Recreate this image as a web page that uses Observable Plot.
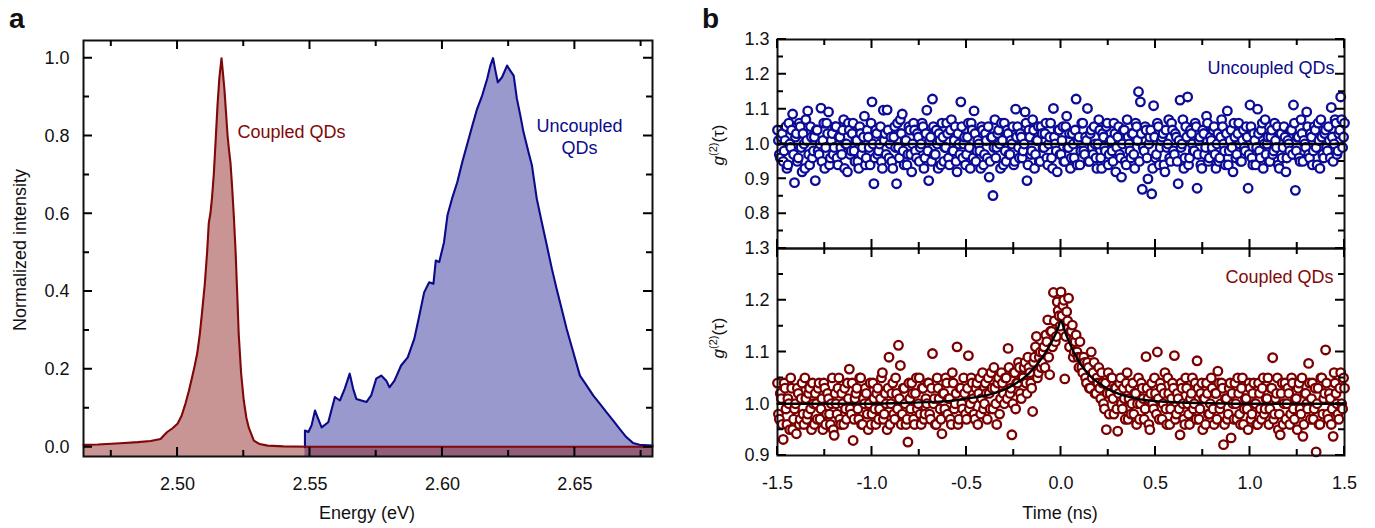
<!DOCTYPE html>
<html><head><meta charset="utf-8">
<script src="https://cdn.jsdelivr.net/npm/d3@7"></script>
<script src="https://cdn.jsdelivr.net/npm/@observablehq/plot@0.6"></script>
<style>
body{margin:0;background:#fff;}
#root{position:relative;width:1375px;height:528px;overflow:hidden;font-family:"Liberation Sans",Arial,sans-serif;color:#111;}
#root > svg{position:absolute;overflow:visible;}
</style></head><body><div id="root"></div>
<script>
// ---------- Panel a: PL spectra ----------
const coupledE = [2.4645,2.4700,2.4785,2.4850,2.4898,2.4936,2.4948,2.4961,2.4980,2.5000,2.5015,2.5030,2.5043,2.5055,2.5065,2.5074,2.5084,2.5093,2.5103,2.5112,2.5118,2.5124,2.5130,2.5137,2.5144,2.5151,2.5158,2.5166,2.5171,2.5177,2.5183,2.5189,2.5195,2.5200,2.5206,2.5212,2.5219,2.5225,2.5231,2.5240,2.5250,2.5260,2.5269,2.5288,2.5310,2.5340,2.5400,2.5500,2.6000,2.6500,2.6793];
const coupledI = [0.006,0.007,0.010,0.013,0.016,0.021,0.030,0.039,0.048,0.060,0.080,0.112,0.145,0.180,0.210,0.240,0.290,0.350,0.420,0.505,0.577,0.600,0.640,0.703,0.790,0.880,0.950,1.000,0.965,0.920,0.860,0.800,0.760,0.730,0.670,0.600,0.505,0.400,0.290,0.190,0.120,0.075,0.050,0.017,0.008,0.004,0.002,0.001,0.001,0.001,0.001];
const uncoupledE = [2.5481,2.5481,2.5494,2.5506,2.5519,2.5531,2.5544,2.5569,2.5594,2.5613,2.5631,2.5650,2.5663,2.5675,2.5694,2.5713,2.5731,2.5750,2.5769,2.5788,2.5800,2.5819,2.5844,2.5869,2.5894,2.5913,2.5931,2.5950,2.5966,2.5975,2.5988,2.6006,2.6019,2.6038,2.6056,2.6075,2.6094,2.6113,2.6131,2.6150,2.6169,2.6181,2.6191,2.6200,2.6209,2.6225,2.6244,2.6256,2.6269,2.6281,2.6294,2.6306,2.6325,2.6338,2.6356,2.6375,2.6394,2.6413,2.6431,2.6450,2.6469,2.6494,2.6519,2.6544,2.6569,2.6594,2.6619,2.6644,2.6669,2.6694,2.6719,2.6744,2.6775,2.6793];
const uncoupledI = [0.000,0.043,0.039,0.056,0.094,0.073,0.051,0.064,0.129,0.120,0.150,0.189,0.150,0.124,0.120,0.116,0.133,0.176,0.184,0.171,0.154,0.171,0.210,0.231,0.279,0.339,0.398,0.424,0.420,0.480,0.476,0.527,0.596,0.643,0.681,0.733,0.780,0.827,0.870,0.904,0.947,0.981,1.000,0.968,0.938,0.951,0.981,0.968,0.955,0.896,0.853,0.810,0.758,0.724,0.639,0.578,0.519,0.459,0.407,0.356,0.304,0.244,0.184,0.159,0.133,0.112,0.090,0.069,0.047,0.026,0.011,0.006,0.005,0.004];
const energyLabels = [2.50,2.55,2.60,2.65];
const energyMinor = [2.475,2.525,2.575,2.625,2.675];
const intensityLabels = [0.0,0.2,0.4,0.6,0.8,1.0];
const intensityMinor = [0.1,0.3,0.5,0.7,0.9];

// ---------- Panel b: g2(tau), two interleaved bin sets ----------
const tStartA = -1.5, tStartB = -1.495, tStep = 0.01;
const g2Uncoupled = [
1.04,0.97,1.02,0.95,1.01,0.93,1.06,0.99,1.086,0.889,
1.03,0.96,1.05,0.92,1.00,1.07,1.095,0.94,1.02,0.98,
0.895,1.04,0.97,1.103,1.01,0.93,1.06,1.092,0.96,1.03,
0.99,1.05,0.94,1.02,0.97,1.07,1.00,0.92,1.04,0.98,
1.06,0.95,1.01,0.93,1.03,0.99,1.08,0.96,1.02,0.94,
1.121,0.886,1.04,0.97,1.00,0.95,1.097,1.03,1.098,0.96,
1.02,0.93,1.05,0.886,0.99,1.07,1.086,0.94,1.01,0.97,
1.04,0.92,1.06,0.98,1.03,0.95,1.00,1.05,0.96,1.097,
0.895,1.02,1.129,0.97,1.04,0.93,1.01,1.06,0.95,0.99,
1.03,0.94,1.07,0.98,1.05,0.92,1.00,1.121,0.96,1.02,
0.97,1.06,0.93,1.04,1.095,0.95,1.01,0.98,1.05,0.94,
1.03,0.96,0.905,1.02,0.852,1.07,0.99,1.04,0.93,1.01,
1.06,0.95,1.03,0.97,1.00,0.94,1.10,1.05,0.96,1.02,
0.98,1.092,0.895,1.04,0.97,1.07,0.93,1.01,1.05,0.95,
1.03,0.99,1.06,0.94,1.02,0.96,1.102,1.00,0.92,1.04,
0.97,1.05,0.95,1.08,0.99,0.93,1.03,0.96,1.129,1.01,
0.94,1.06,0.98,1.02,1.102,0.95,1.04,0.97,1.00,0.93,
1.07,0.96,1.03,0.99,1.05,0.94,1.01,0.98,1.06,0.92,
1.02,0.97,0.905,1.04,0.95,1.07,1.00,0.96,1.03,0.93,
1.05,1.15,1.121,0.870,0.98,1.04,0.90,1.02,0.857,1.11,
0.96,1.06,0.94,1.01,1.03,0.92,0.99,1.07,0.95,1.04,
0.97,1.02,0.886,1.126,1.00,0.93,1.05,1.135,0.96,1.03,
0.98,1.06,0.873,1.01,0.94,1.04,0.97,1.08,0.95,1.02,
0.99,1.05,0.93,1.03,0.96,1.07,1.00,0.94,1.095,0.98,
1.04,0.92,1.02,0.97,1.06,0.95,1.01,0.99,1.05,0.873,
1.112,0.96,1.03,0.94,1.10,0.98,1.04,0.93,1.07,1.00,
0.95,1.02,0.97,1.06,0.99,0.94,1.03,0.96,1.05,0.92,
1.01,0.98,1.04,1.112,0.867,1.02,0.96,1.07,0.95,1.00,
1.092,0.97,1.03,0.94,1.05,0.99,1.06,0.93,1.02,0.96,
1.04,0.98,1.01,1.105,0.95,1.07,0.97,1.03,1.135,0.99,
1.06];
const g2UncoupledB = [
1.01,0.96,1.03,0.98,1.05,0.94,1.00,1.04,0.97,1.02,
0.95,1.06,0.99,1.03,0.93,1.01,0.97,1.05,0.96,1.02,
1.04,0.98,1.00,0.95,1.06,0.99,1.03,0.94,1.01,0.97,
1.05,0.96,1.02,0.99,1.04,0.93,1.00,1.06,0.97,1.03,
0.98,1.01,0.95,1.05,0.97,1.02,0.94,1.04,0.99,1.06,
1.00,0.96,1.03,0.98,1.05,0.93,1.01,0.97,1.04,1.00,
0.95,1.02,0.99,1.06,0.96,1.03,0.98,1.01,0.94,1.05,
0.97,1.00,1.04,0.96,1.02,0.99,1.06,0.93,1.03,0.98,
1.01,0.95,1.05,0.97,1.00,1.03,0.94,1.02,0.99,1.06,
0.96,1.04,0.98,1.01,0.95,1.03,0.97,1.05,1.00,0.94,
1.02,0.99,1.06,0.96,1.03,0.98,1.00,0.93,1.04,0.97,
1.01,1.05,0.95,1.02,0.99,0.96,1.03,1.00,1.06,0.94,
0.98,1.04,0.97,1.01,1.05,0.95,1.02,0.99,1.03,0.96,
1.00,1.06,0.94,1.02,0.98,1.04,0.97,1.01,0.95,1.05,
0.99,1.03,0.96,1.00,1.06,0.93,1.02,0.98,1.04,0.97,
1.01,0.95,1.05,0.99,1.03,0.96,1.00,1.04,0.94,1.02,
0.98,1.06,0.97,1.01,0.95,1.03,0.99,1.05,0.96,1.00,
1.04,0.93,1.02,0.98,1.06,0.97,1.01,0.95,1.03,0.99,
1.05,0.96,1.00,1.04,0.94,1.02,0.98,1.03,0.97,1.06,
1.01,0.95,1.03,0.99,1.05,0.96,1.00,1.04,0.93,1.02,
0.97,1.05,0.99,1.02,0.94,1.04,1.00,0.96,1.06,0.98,
1.03,0.95,1.01,0.99,1.07,0.96,1.02,0.94,1.04,1.00,
0.98,1.05,0.97,1.02,0.93,1.03,0.99,1.06,0.96,1.01,
1.04,0.97,1.00,0.95,1.02,1.05,0.98,1.03,0.94,1.01,
0.99,1.06,0.96,1.03,1.00,0.95,1.04,0.98,1.02,0.97,
1.05,0.94,1.01,0.99,1.03,0.96,1.06,1.00,0.97,1.02,
0.95,1.04,0.98,1.01,1.05,0.93,1.03,0.99,1.02,0.96,
1.00,1.04,0.97,1.06,0.98,1.02,0.95,1.03,1.01,0.99,
1.05,0.96,1.02,0.98,1.04,0.94,1.01,1.07,0.97,1.03,
0.99,1.05,0.96,1.02,1.00,1.06,0.98,1.04,1.07,1.02];
const g2Coupled = [
1.04,0.97,1.01,0.931,1.03,0.96,1.00,1.05,0.95,0.99,
0.942,1.02,0.97,1.04,0.96,1.01,0.98,1.03,0.95,1.00,
1.02,0.97,1.04,0.99,0.95,1.03,0.98,1.01,0.96,1.05,
0.939,1.00,1.03,0.97,1.02,0.96,0.99,1.04,1.067,0.98,
0.929,1.01,1.03,0.97,1.05,0.96,1.00,1.02,0.95,1.04,
0.98,1.01,0.96,1.03,0.99,1.05,0.97,1.02,0.95,1.09,
1.00,1.04,0.97,1.02,1.113,1.074,0.98,1.03,0.96,0.926,
1.01,1.04,0.97,1.02,0.99,1.05,0.96,1.03,0.98,1.00,
1.04,0.97,1.097,1.01,0.96,1.03,0.99,0.942,1.02,1.05,
0.98,1.01,0.96,1.04,1.00,1.11,0.97,1.03,0.99,1.02,
0.97,1.093,1.00,1.04,0.98,1.03,0.96,1.05,1.01,0.99,
1.04,0.97,1.02,1.06,0.99,1.03,0.96,1.05,1.01,1.04,
1.00,1.05,1.107,1.02,0.94,1.06,0.99,1.04,1.07,1.01,
1.05,1.08,1.02,1.07,1.04,0.985,1.09,1.13,1.06,1.10,
1.08,1.11,1.133,1.162,1.056,1.14,1.215,1.12,1.197,1.17,
1.216,1.19,1.048,1.178,1.204,1.14,1.152,1.10,1.133,1.09,
1.12,1.07,1.09,1.05,1.08,1.03,1.10,1.06,1.02,1.05,
1.07,1.01,1.04,0.99,0.95,1.06,1.02,1.05,0.98,1.03,
0.947,1.04,1.00,1.03,0.97,1.06,1.01,0.98,1.04,1.02,
0.96,1.05,1.00,1.03,0.97,1.091,1.01,0.95,1.04,0.99,
1.02,1.10,0.97,1.03,1.00,1.06,0.96,1.02,0.99,1.04,
1.093,0.98,1.01,0.94,1.03,0.97,1.05,1.00,0.96,1.02,
0.99,1.04,1.083,0.97,1.02,0.95,1.01,1.04,0.98,1.00,
1.03,0.96,1.02,1.063,0.99,1.04,0.921,1.01,0.97,1.03,
0.934,1.00,1.04,0.97,1.02,0.96,1.05,0.99,1.01,0.95,
1.03,0.98,1.04,1.00,0.96,1.02,0.97,1.05,0.99,1.01,
0.96,1.03,1.089,0.98,1.02,0.95,0.94,1.04,1.00,0.97,
1.03,0.96,1.05,0.99,1.01,0.95,1.04,0.98,0.937,1.02,
1.00,1.078,0.97,1.04,0.99,0.907,1.03,0.96,1.05,1.01,
1.104,0.98,1.02,0.96,0.937,1.04,1.00,0.97,1.06,0.99,
1.03];
const g2CoupledB = [
0.98,1.02,0.96,1.04,0.99,1.01,0.95,1.03,0.97,1.00,
1.03,0.96,1.01,0.98,1.05,0.97,1.02,0.99,1.04,0.96,
1.00,1.03,0.97,1.01,1.04,0.96,1.02,0.98,1.00,0.95,
1.02,0.98,1.05,0.96,1.00,1.03,0.97,1.01,0.99,1.04,
0.97,1.02,0.99,1.05,0.96,1.01,1.03,0.98,1.00,0.96,
1.04,0.99,1.02,0.97,1.01,1.06,0.98,1.00,1.03,0.96,
1.02,0.98,1.05,0.99,1.01,0.96,1.03,1.00,0.97,1.04,
0.99,1.02,0.96,1.05,1.00,0.98,1.03,0.97,1.01,1.04,
0.98,1.03,1.00,0.96,1.05,1.01,0.97,1.02,0.99,1.04,
1.01,0.97,1.06,0.99,1.02,0.96,1.03,1.00,1.05,0.98,
1.03,0.99,1.05,1.01,0.97,1.04,1.02,0.98,1.06,1.00,
1.02,1.05,0.99,1.03,1.07,1.00,1.04,0.98,1.06,1.02,
1.05,1.01,1.07,1.03,1.00,1.06,1.04,1.08,1.02,1.05,
1.07,1.04,1.09,1.06,1.03,1.08,1.11,1.05,1.09,1.07,
1.10,1.07,1.12,1.09,1.14,1.11,1.16,1.13,1.18,1.15,
1.17,1.20,1.13,1.16,1.11,1.14,1.09,1.12,1.10,1.07,
1.09,1.06,1.08,1.04,1.07,1.03,1.05,1.08,1.02,1.04,
1.03,1.06,1.00,1.04,1.02,0.98,1.05,1.01,1.03,0.99,
1.02,1.05,0.99,1.01,1.04,0.97,1.03,1.00,0.98,1.02,
1.00,0.97,1.04,1.01,0.99,1.03,0.96,1.02,1.00,1.05,
0.98,1.01,1.04,0.97,1.02,0.99,1.05,0.96,1.01,1.03,
0.97,1.02,0.99,1.04,1.00,0.96,1.03,0.98,1.01,1.05,
1.00,0.97,1.03,0.99,1.04,1.01,0.96,1.02,0.98,1.05,
0.99,1.02,0.97,1.04,1.00,1.03,0.96,1.01,0.98,1.04,
1.02,0.97,1.00,1.05,0.98,1.03,0.96,1.01,0.99,1.04,
0.97,1.02,1.00,0.96,1.04,0.99,1.03,0.98,1.01,1.05,
0.99,1.03,0.97,1.01,1.05,0.98,1.02,0.96,1.04,1.00,
1.02,0.98,1.04,0.97,1.01,1.03,0.99,1.05,0.96,1.02,
0.99,1.04,1.01,0.97,1.03,1.00,0.96,1.05,0.98,1.02,
1.04,0.97,1.01,0.99,1.06,1.02,0.98,1.03,1.00,1.05];
const fitT = [-1.5,-1.0,-0.8,-0.6,-0.5,-0.4,-0.3,-0.25,-0.2,-0.15,-0.1,-0.07,-0.04,-0.02,0,0.02,0.04,0.07,0.1,0.15,0.2,0.25,0.3,0.4,0.5,0.6,0.8,1.0,1.5];
const fitG = [1.000,1.000,1.002,1.005,1.010,1.016,1.027,1.037,1.049,1.066,1.089,1.106,1.126,1.142,1.160,1.140,1.122,1.098,1.079,1.055,1.040,1.028,1.020,1.010,1.005,1.003,1.001,1.000,1.000];
const uncoupledBaseline = [1.0];
const timeLabels = [-1.5,-1.0,-0.5,0.0,0.5,1.0,1.5];
const timeMinor = [-1.25,-0.75,-0.25,0.25,0.75,1.25];
const g2TopLabels = [0.8,0.9,1.0,1.1,1.2,1.3];
const g2TopMinor = [0.75,0.85,0.95,1.05,1.15,1.25];
const g2BotLabels = [0.9,1.0,1.1,1.2,1.3];
const g2BotMinor = [0.95,1.05,1.15,1.25];

// ---------- colours ----------
const RED = "#800808", RED_FILL = "#8c1c1c", BLUE = "#0b0b8a", BLUE_DOT = "#0c0c96", DOT_RED = "#7a0000";
const FONT = '"Liberation Sans", Arial, sans-serif';

const baseStyle = {fontFamily: FONT, fontSize: "18px", color: "#111", background: "transparent", overflow: "visible"};
const root = document.getElementById("root");
function place(svg, left, top) {
  svg.style.position = "absolute";
  svg.style.left = left + "px";
  svg.style.top = top + "px";
  root.appendChild(svg);
}

// ---------- panel a ----------
const xA = [2.4645, 2.6793], yA = [-0.024, 1.0455];
const cData = coupledE.map((e, i) => ({e, v: coupledI[i]}));
const uData = uncoupledE.map((e, i) => ({e, v: uncoupledI[i]}));
const plotA = Plot.plot({
  width: 690, height: 528, marginLeft: 83, marginRight: 38, marginTop: 40, marginBottom: 72,
  style: baseStyle,
  x: {domain: xA},
  y: {domain: yA},
  marks: [
    Plot.areaY(uData, {x: "e", y1: () => yA[0], y2: "v", fill: BLUE, fillOpacity: 0.42}),
    Plot.areaY(cData, {x: "e", y1: () => yA[0], y2: "v", fill: RED_FILL, fillOpacity: 0.47}),
    Plot.line(uData, {x: "e", y: "v", stroke: BLUE, strokeWidth: 2.1}),
    Plot.line(cData, {x: "e", y: "v", stroke: RED, strokeWidth: 2.1}),
    Plot.axisX(energyLabels, {anchor: "bottom", tickSize: 0, tickPadding: 21, tickFormat: d3.format(".2f"), label: null, fill: "#111"}),
    Plot.axisY(intensityLabels, {anchor: "left", tickSize: 0, tickPadding: 14, tickFormat: d3.format(".1f"), label: null, fill: "#111"}),
    Plot.frame({stroke: "#111", strokeWidth: 2}),
    Plot.text(["Coupled QDs"], {text: d => d, frameAnchor: "top-left", dx: 154, dy: 85, textAnchor: "start", fill: RED, fontSize: 18}),
    Plot.text(["Uncoupled"], {text: d => d, frameAnchor: "top-left", dx: 496, dy: 79, textAnchor: "middle", fill: BLUE, fontSize: 18}),
    Plot.text(["QDs"], {text: d => d, frameAnchor: "top-left", dx: 496, dy: 101, textAnchor: "middle", fill: BLUE, fontSize: 18})
  ]
});
place(plotA, 0, 0);

// ---------- panel b ----------
const fmt1 = d => d.toFixed(1);
const bins = (arr, start) => arr.map((g, i) => ({t: +(start + i * tStep).toFixed(3), g}));
const topData = [...bins(g2Uncoupled, tStartA), ...bins(g2UncoupledB, tStartB)].sort((a, b) => a.t - b.t);
const botData = [...bins(g2Coupled, tStartA), ...bins(g2CoupledB, tStartB)].sort((a, b) => a.t - b.t);
const fitData = fitT.map((t, i) => ({t, g: fitG[i]}));
const DOT = {r: 4.3, strokeWidth: 2.3, fill: "white"};
const xB = [-1.5, 1.5], yTop = [0.7, 1.3], yBot = [0.9, 1.3];

const plotTop = Plot.plot({
  width: 685, height: 260, marginLeft: 87, marginRight: 31, marginTop: 39, marginBottom: 12,
  style: baseStyle,
  x: {domain: xB, axis: null},
  y: {domain: yTop},
  marks: [
    Plot.dot(topData, {x: "t", y: "g", stroke: BLUE_DOT, ...DOT}),
    Plot.ruleY(uncoupledBaseline, {stroke: "#000", strokeWidth: 2.6}),
    Plot.axisY(g2TopLabels, {anchor: "left", tickSize: 0, tickPadding: 8, tickFormat: fmt1, label: null, fill: "#111"}),
    Plot.frame({stroke: "#111", strokeWidth: 2}),
    Plot.text(["Uncoupled QDs"], {text: d => d, frameAnchor: "top-right", dx: -10, dy: 22, textAnchor: "end", fill: BLUE, fontSize: 18})
  ]
});
place(plotTop, 690, 0);

const plotBot = Plot.plot({
  width: 685, height: 328, marginLeft: 87, marginRight: 31, marginTop: 48, marginBottom: 73,
  style: baseStyle,
  x: {domain: xB},
  y: {domain: yBot},
  marks: [
    Plot.dot(botData, {x: "t", y: "g", stroke: DOT_RED, ...DOT}),
    Plot.line(fitData, {x: "t", y: "g", stroke: "#000", strokeWidth: 2.4, curve: "monotone-x"}),
    Plot.axisX(timeLabels, {anchor: "bottom", tickSize: 0, tickPadding: 21, tickFormat: fmt1, label: null, fill: "#111"}),
    Plot.axisY(g2BotLabels, {anchor: "left", tickSize: 0, tickPadding: 8, tickFormat: fmt1, label: null, fill: "#111"}),
    Plot.frame({stroke: "#111", strokeWidth: 2}),
    Plot.text(["Coupled QDs"], {text: d => d, frameAnchor: "top-right", dx: -11, dy: 22, textAnchor: "end", fill: RED, fontSize: 18})
  ]
});
place(plotBot, 690, 200);

// ---------- overlay: titles and inward frame ticks ----------
const ov = d3.select(root).append("svg")
  .attr("width", 1375).attr("height", 528)
  .style("left", "0px").style("top", "0px").style("pointer-events", "none")
  .attr("font-family", FONT).attr("fill", "#111");

// inward ticks on all four sides, positioned through each plot's own x / y scales
function addBoxTicks(plot, left, top, {xMajor, xMinor, yMajor, yMinor}) {
  const sx = plot.scale("x"), sy = plot.scale("y");
  const xl = left + Math.min(...sx.range), xr = left + Math.max(...sx.range);
  const yt = top + Math.min(...sy.range), yb = top + Math.max(...sy.range);
  let d = "";
  for (const [xs, ys, size] of [[xMajor, yMajor, 9], [xMinor, yMinor, 6]]) {
    for (const v of xs) {
      const px = (left + sx.apply(v)).toFixed(2);
      d += `M${px},${yb}v${-size}M${px},${yt}v${size}`;
    }
    for (const v of ys) {
      const py = (top + sy.apply(v)).toFixed(2);
      d += `M${xl},${py}h${size}M${xr},${py}h${-size}`;
    }
  }
  ov.append("path").attr("d", d).attr("fill", "none").attr("stroke", "#000").attr("stroke-width", 2);
}
addBoxTicks(plotA, 0, 0, {xMajor: energyLabels, xMinor: energyMinor, yMajor: intensityLabels, yMinor: intensityMinor});
addBoxTicks(plotTop, 690, 0, {xMajor: timeLabels, xMinor: timeMinor, yMajor: g2TopLabels, yMinor: g2TopMinor});
addBoxTicks(plotBot, 690, 200, {xMajor: timeLabels, xMinor: timeMinor, yMajor: g2BotLabels, yMinor: g2BotMinor});

ov.append("text").attr("x", 9).attr("y", 28).attr("font-size", 28).attr("font-weight", "bold").text("a");
ov.append("text").attr("x", 702).attr("y", 28).attr("font-size", 28).attr("font-weight", "bold").text("b");
ov.append("text").attr("transform", "translate(20,250) rotate(-90)").attr("text-anchor", "middle")
  .attr("dominant-baseline", "central").attr("font-size", 18).text("Normalized intensity");
ov.append("text").attr("x", 367).attr("y", 513).attr("text-anchor", "middle")
  .attr("dominant-baseline", "central").attr("font-size", 18).text("Energy (eV)");
ov.append("text").attr("x", 1060).attr("y", 513).attr("text-anchor", "middle")
  .attr("dominant-baseline", "central").attr("font-size", 18).text("Time (ns)");
function g2Label(cx, cy) {
  const t = ov.append("text").attr("transform", `translate(${cx},${cy}) rotate(-90)`)
    .attr("text-anchor", "middle").attr("font-size", 17);
  t.append("tspan").attr("font-style", "italic").text("g");
  t.append("tspan").attr("font-size", 11).attr("dy", -7).text("(2)");
  t.append("tspan").attr("dy", 7).text("(τ)");
}
g2Label(724, 145);
g2Label(724, 338);
</script></body></html>
